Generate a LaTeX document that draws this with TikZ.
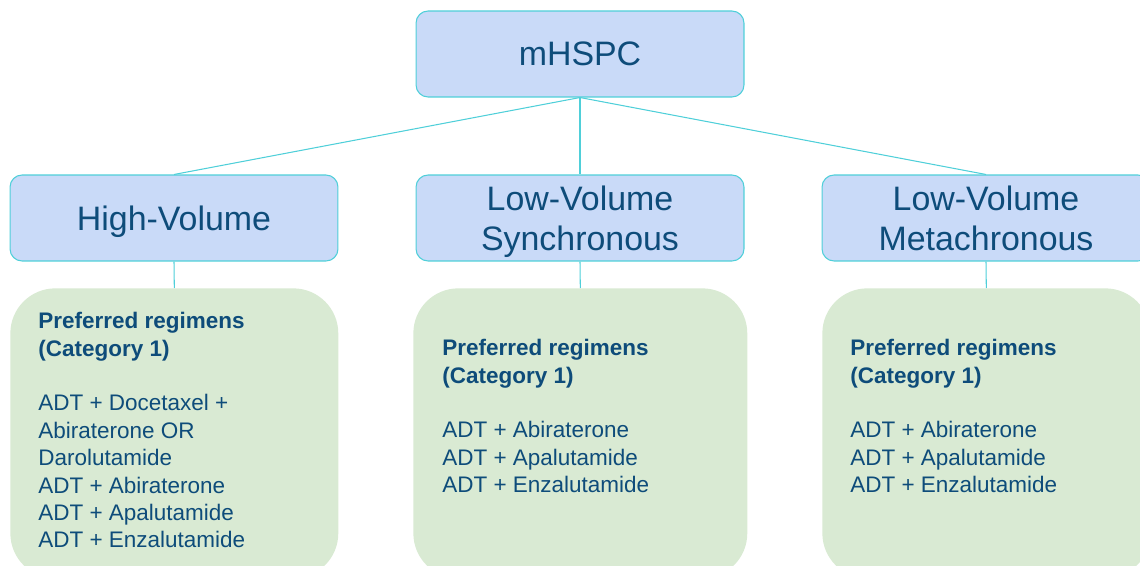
\documentclass[tikz,border=0pt]{standalone}
\usepackage{fontspec}
\setmainfont{Liberation Sans}
\usetikzlibrary{positioning}
\definecolor{boxblue}{HTML}{C9DAF8}
\definecolor{edgecyan}{HTML}{4FCFD9}
\definecolor{regreen}{HTML}{D9EAD3}
\definecolor{inkblue}{HTML}{0E4C7A}

\begin{document}
\begin{tikzpicture}[x=0.02cm,y=-0.02cm,
  stage/.style={draw=edgecyan,fill=boxblue,rounded corners=0.24cm,line width=0.6pt,minimum width=6.56cm,minimum height=1.72cm,inner sep=0pt,align=center,text depth=0pt,text=inkblue,font=\fontsize{19.3}{22.8}\selectfont},
  regbox/.style={fill=regreen,rounded corners=0.9cm,anchor=north west,inner sep=0pt,minimum height=5.8cm},
  regtext/.style={anchor=north west,inner sep=0pt,align=left,text=inkblue,font=\fontsize{12.8}{15.6}\selectfont},
  link/.style={edgecyan,line width=0.6pt}]
  \useasboundingbox (0,0) rectangle (1140,565);
  \clip (0,0) rectangle (1140,565);

  % Disease setting and volume
  \node[stage] (mhspc) at (580,54) {mHSPC};
  \node[stage] (hv) at (174,218) {High-Volume};
  \node[stage] (lvs) at (580,218) {Low-Volume\\Synchronous};
  \node[stage] (lvm) at (986,218) {Low-Volume\\Metachronous};

  % Regimen panels
  \node[regbox,minimum width=6.56cm] (hvreg) at (10,288) {};
  \node[regbox,minimum width=6.68cm] (lvsreg) at (413,288) {};
  \node[regbox,minimum width=6.56cm] (lvmreg) at (822,288) {};

  \node[regtext] (hvtxt) at ([shift={(28,24)}]hvreg.north west)
    {\textbf{Preferred regimens}\\\textbf{(Category 1)}\\[15.6pt]
     ADT + Docetaxel +\\Abiraterone OR\\Darolutamide\\
     ADT + Abiraterone\\ADT + Apalutamide\\ADT + Enzalutamide};
  \node[regtext] (lvstxt) at ([shift={(29,51)}]lvsreg.north west)
    {\textbf{Preferred regimens}\\\textbf{(Category 1)}\\[15.6pt]
     ADT + Abiraterone\\ADT + Apalutamide\\ADT + Enzalutamide};
  \node[regtext] (lvmtxt) at ([shift={(28,51)}]lvmreg.north west)
    {\textbf{Preferred regimens}\\\textbf{(Category 1)}\\[15.6pt]
     ADT + Abiraterone\\ADT + Apalutamide\\ADT + Enzalutamide};

  % Connectors
  \draw[link] (mhspc.south) -- (hv.north);
  \draw[link] (mhspc.south) -- (lvs.north);
  \draw[link] (mhspc.south) -- (lvm.north);
  \draw[link] (hv.south) -- (hvreg.north);
  \draw[link] (lvs.south) -- (lvsreg.north);
  \draw[link] (lvm.south) -- (lvmreg.north);
\end{tikzpicture}
\end{document}
